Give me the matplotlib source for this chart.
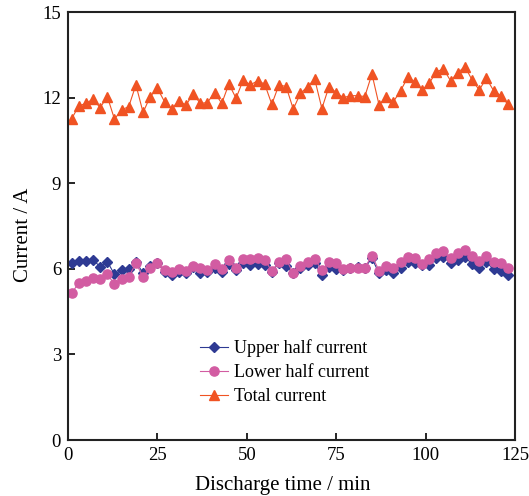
import matplotlib
matplotlib.use("Agg")
import matplotlib.pyplot as plt

plt.rcParams['font.family'] = ['Liberation Serif', 'DejaVu Serif']

time_min = [1, 3, 5, 7, 9, 11, 13, 15, 17, 19, 21, 23, 25, 27, 29, 31, 33, 35, 37, 39,
            41, 43, 45, 47, 49, 51, 53, 55, 57, 59, 61, 63, 65, 67, 69, 71, 73, 75, 77, 79,
            81, 83, 85, 87, 89, 91, 93, 95, 97, 99, 101, 103, 105, 107, 109, 111, 113, 115,
            117, 119, 121, 123]

upper_current = [6.20, 6.28, 6.29, 6.32, 6.08, 6.26, 5.81, 5.96, 5.99, 6.26,
                 5.85, 6.11, 6.20, 5.91, 5.79, 5.91, 5.85, 6.06, 5.85, 5.88,
                 6.05, 5.91, 6.16, 5.96, 6.20, 6.14, 6.18, 6.14, 5.91, 6.20,
                 6.11, 5.85, 6.05, 6.14, 6.20, 5.79, 6.08, 5.99, 5.96, 6.02,
                 6.08, 6.05, 6.37, 5.85, 5.96, 5.85, 6.05, 6.26, 6.22, 6.14,
                 6.14, 6.37, 6.43, 6.20, 6.32, 6.41, 6.18, 6.05, 6.23, 6.00,
                 5.94, 5.79]

lower_current = [5.15, 5.50, 5.59, 5.70, 5.65, 5.81, 5.47, 5.65, 5.73, 6.20,
                 5.73, 6.05, 6.22, 5.96, 5.88, 5.99, 5.94, 6.11, 6.02, 5.96,
                 6.16, 6.00, 6.32, 6.02, 6.34, 6.34, 6.37, 6.32, 5.93, 6.26,
                 6.34, 5.85, 6.11, 6.23, 6.35, 5.96, 6.23, 6.22, 6.00, 6.02,
                 6.02, 6.05, 6.47, 5.94, 6.12, 6.05, 6.23, 6.41, 6.37, 6.16,
                 6.34, 6.57, 6.63, 6.37, 6.55, 6.67, 6.46, 6.28, 6.47, 6.26,
                 6.20, 6.05]

total_current = [11.26, 11.72, 11.81, 11.96, 11.66, 12.05, 11.26, 11.58, 11.70, 12.46,
                 11.49, 12.05, 12.34, 11.87, 11.63, 11.89, 11.75, 12.14, 11.81, 11.84,
                 12.19, 11.81, 12.49, 11.99, 12.63, 12.46, 12.60, 12.49, 11.78, 12.46,
                 12.40, 11.61, 12.16, 12.40, 12.66, 11.63, 12.40, 12.19, 12.01, 12.08,
                 12.08, 12.05, 12.84, 11.75, 12.05, 11.87, 12.25, 12.72, 12.57, 12.28,
                 12.51, 12.92, 13.02, 12.60, 12.89, 13.10, 12.63, 12.28, 12.69, 12.26,
                 12.08, 11.78]

x_ticks = [0, 25, 50, 75, 100, 125]
y_ticks = [0, 3, 6, 9, 12, 15]

fig = plt.figure(figsize=(5.29, 4.96), dpi=100)
ax = fig.add_axes([0.1285, 0.1129, 0.845, 0.862])

ax.plot(time_min, upper_current, color='#2e3a93', marker='D', markersize=5.2,
        linewidth=0.8, label='Upper half current')
ax.plot(time_min, lower_current, color='#d25ca2', marker='o', markersize=6.6,
        linewidth=0.8, label='Lower half current')
ax.plot(time_min, total_current, color='#f05323', marker='^', markersize=7.5,
        linewidth=0.8, label='Total current')

ax.set_xlim(0, 125)
ax.set_ylim(0, 15)
ax.set_xticks(x_ticks)
ax.set_yticks(y_ticks)
ax.tick_params(direction='in', length=5, width=1.2, labelsize=13.5,
               top=False, right=False, pad=5)
for s in ax.spines.values():
    s.set_linewidth(1.5)
    s.set_color('#222222')

ax.set_xlabel('Discharge time / min', fontsize=15)
ax.set_ylabel('Current / A', fontsize=15)
ax.xaxis.set_label_coords(0.48, -0.085)
ax.yaxis.set_label_coords(-0.078, 0.48)

ax.legend(loc='upper left', bbox_to_anchor=(0.279, 0.252), frameon=False,
          fontsize=13, handlelength=1.55, handletextpad=0.35, labelspacing=0.38,
          borderaxespad=0)

fig.savefig('out.png', dpi=100)
